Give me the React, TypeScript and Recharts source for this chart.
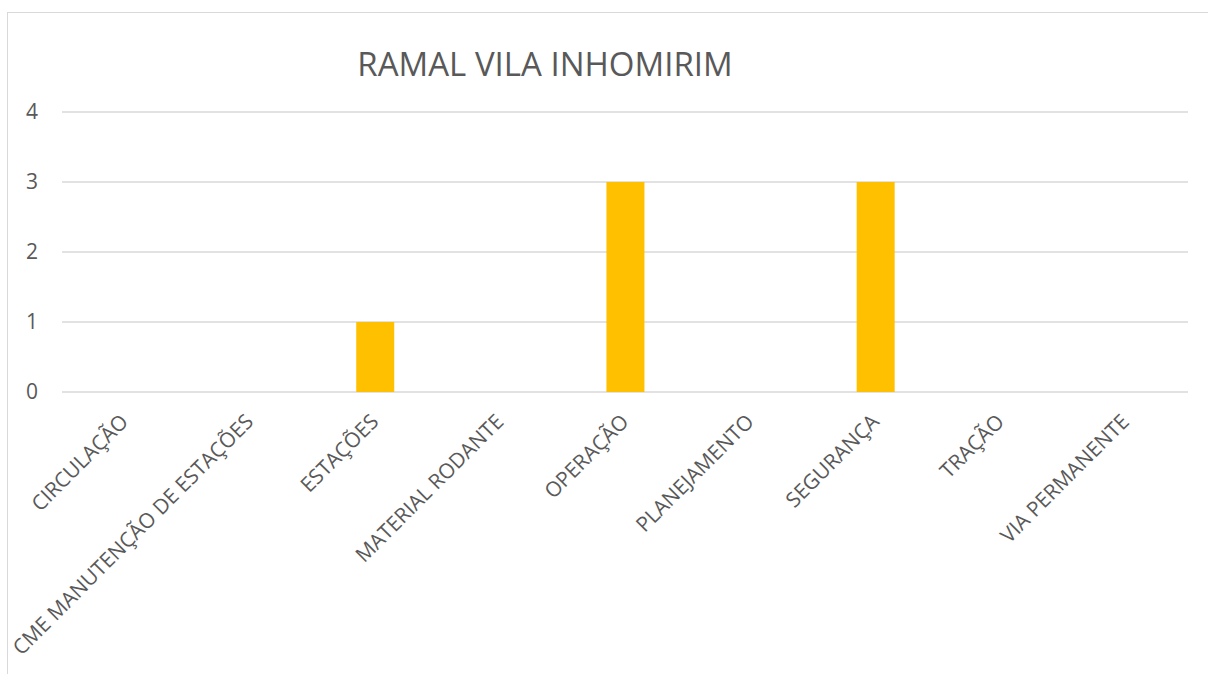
import { Bar, BarChart, CartesianGrid, XAxis, YAxis } from 'recharts';

const categories = [
  'CIRCULAÇÃO',
  'CME MANUTENÇÃO DE ESTAÇÕES',
  'ESTAÇÕES',
  'MATERIAL RODANTE',
  'OPERAÇÃO',
  'PLANEJAMENTO',
  'SEGURANÇA',
  'TRAÇÃO',
  'VIA PERMANENTE',
];
const values = [0, 0, 1, 0, 3, 0, 3, 0, 0];
const yTicks = [0, 1, 2, 3, 4];

const data = categories.map((name, i) => ({ name, value: values[i] }));

const FONT = '"Open Sans", sans-serif';
const TEXT = '#595959';

function RotatedTick(props: any) {
  const { x, y, payload } = props;
  return (
    <g transform={`translate(${x + 5},${y + 31})`}>
      <text transform="rotate(-45)" textAnchor="end" fill={TEXT} fontSize={20.8} fontFamily={FONT}>
        {payload.value}
      </text>
    </g>
  );
}

export default function App() {
  return (
    <div style={{ position: 'absolute', left: 0, top: 0, width: 1208, height: 674, overflow: 'hidden', background: '#fff' }}>
      <div style={{ position: 'absolute', left: 7, top: 12, width: 1220, height: 700, border: '1px solid #d9d9d9' }} />
      <div
        style={{
          position: 'absolute',
          left: 0,
          width: 1090,
          top: 41,
          textAlign: 'center',
          fontFamily: FONT,
          fontSize: 33,
          color: TEXT,
          whiteSpace: 'nowrap',
        }}
      >
        RAMAL VILA INHOMIRIM
      </div>
      <BarChart
        width={1208}
        height={674}
        data={data}
        margin={{ top: 112, right: 20, bottom: 12, left: 8 }}
        barCategoryGap={0}
        style={{ position: 'absolute', left: 0, top: 0 }}
      >
        <CartesianGrid vertical={false} stroke="#d9d9d9" strokeWidth={1.5} />
        <XAxis
          dataKey="name"
          height={270}
          axisLine={false}
          tickLine={false}
          tickSize={0}
          tickMargin={0}
          interval={0}
          tick={<RotatedTick />}
        />
        <YAxis
          width={54}
          domain={[0, 4]}
          ticks={yTicks}
          axisLine={false}
          tickLine={false}
          tickSize={0}
          tickMargin={24}
          tick={{ fill: TEXT, fontSize: 21, fontFamily: FONT }}
        />
        <Bar dataKey="value" fill="#FFC000" barSize={38} isAnimationActive={false} />
      </BarChart>
    </div>
  );
}
